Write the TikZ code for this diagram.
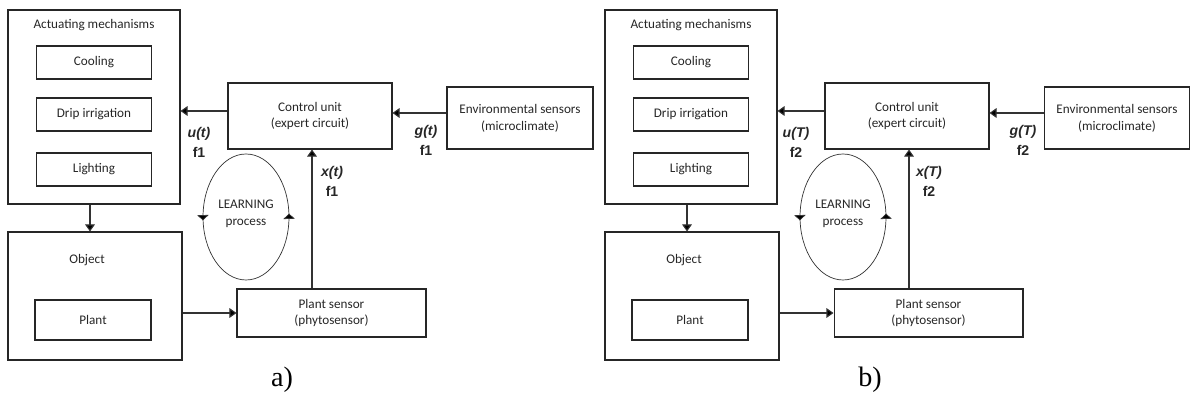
\documentclass[tikz,border=0pt]{standalone}
\usepackage{fontspec}
\setmainfont{Carlito}
\newfontfamily\labfont{Liberation Sans}
\newfontfamily\tagfont{Liberation Serif}
\usetikzlibrary{positioning,arrows.meta,decorations.markings}

\begin{document}
\begin{tikzpicture}[x=0.02cm,y=-0.02cm,
		every node/.style={font=\fontsize{7.5}{9.6}\selectfont,text=black!85},
		box/.style={draw=black!85,line width=0.6pt,inner sep=0pt,align=center},
		arr/.style={draw=black!80,line width=0.6pt,-{Triangle[length=4pt,width=5.5pt,fill=black]}},
		lab/.style={font=\labfont\bfseries\fontsize{8}{11.3}\selectfont,align=center},
		loopline/.style={draw=black!80,line width=0.4pt,postaction={decorate},
			decoration={markings,
				mark=at position 0.01 with {\arrow{Triangle[length=3pt,width=6.5pt,fill=black]}},
				mark=at position 0.51 with {\arrow{Triangle[length=3pt,width=6.5pt,fill=black]}}}}
	]
	\useasboundingbox (0,0) rectangle (1190,401);
	\foreach \n/\dx/\tv/\fr/\tx/\tg in {1/0/t/f1/282/a, 2/597/T/f2/273/b}{
	\begin{scope}[xshift=\dx*0.02cm]
		% Actuating mechanisms
		\node[box,minimum width=3.44cm,minimum height=3.88cm] (act\n) at (94,107) {};
		\node (acttitle\n) at (94,25) {Actuating mechanisms};
		\node[box,minimum width=2.3cm,minimum height=0.66cm] (cool\n) at (94,62.5) {Cooling};
		\node[box,minimum width=2.3cm,minimum height=0.66cm] (drip\n) at (94,114.5) {Drip irrigation};
		\node[box,minimum width=2.3cm,minimum height=0.66cm] (light\n) at (94,169.5) {Lighting};
		% Object
		\node[box,minimum width=3.48cm,minimum height=2.56cm] (obj\n) at (95,296) {};
		\node (objtitle\n) at (87,260) {Object};
		\node[box,minimum width=2.32cm,minimum height=0.8cm] (plant\n) at (93,320) {Plant};
		% Control and sensors
		\node[box,minimum width=3.28cm,minimum height=1.32cm] (ctl\n) at (310,116) {Control unit\\(expert circuit)};
		\node[box,minimum width=2.92cm,minimum height=1.24cm] (env\n) at (520,118) {Environmental sensors\\(microclimate)};
		\node[box,minimum width=3.78cm,minimum height=0.96cm] (sens\n) at (331.5,313) {Plant sensor\\(phytosensor)};
		% Learning loop
		\draw[loopline] (246,217) ellipse [x radius=0.86cm,y radius=1.26cm];
		\node[align=center] (learn\n) at (246,214) {LEARNING\\process};
		% Connectors
		\draw[arr] ([yshift=0.1cm]ctl\n.west) -- ([yshift=0.1cm]ctl\n.west -| act\n.east);
		\draw[arr] ([yshift=0.1cm]env\n.west) -- ([yshift=0.1cm]env\n.west -| ctl\n.east);
		\draw[arr] ([xshift=-0.08cm]act\n.south) -- ([xshift=-0.08cm]act\n.south |- obj\n.north);
		\draw[arr] (obj\n.east |- sens\n.west) -- (sens\n.west);
		\draw[arr] ([xshift=0.04cm]ctl\n.south |- sens\n.north) -- ([xshift=0.04cm]ctl\n.south);
		% Signals
		\node[lab] (u\n) at (199,142) {{\itshape u(\tv)}\\\fr};
		\node[lab] (g\n) at (426,140) {{\itshape g(\tv)}\\\fr};
		\node[lab] (x\n) at (332,181) {{\itshape x(\tv)}\\\fr};
		\node[font=\tagfont\fontsize{16}{18}\selectfont,text=black] (tag\n) at (\tx,380) {\tg)};
	\end{scope}}
\end{tikzpicture}
\end{document}
